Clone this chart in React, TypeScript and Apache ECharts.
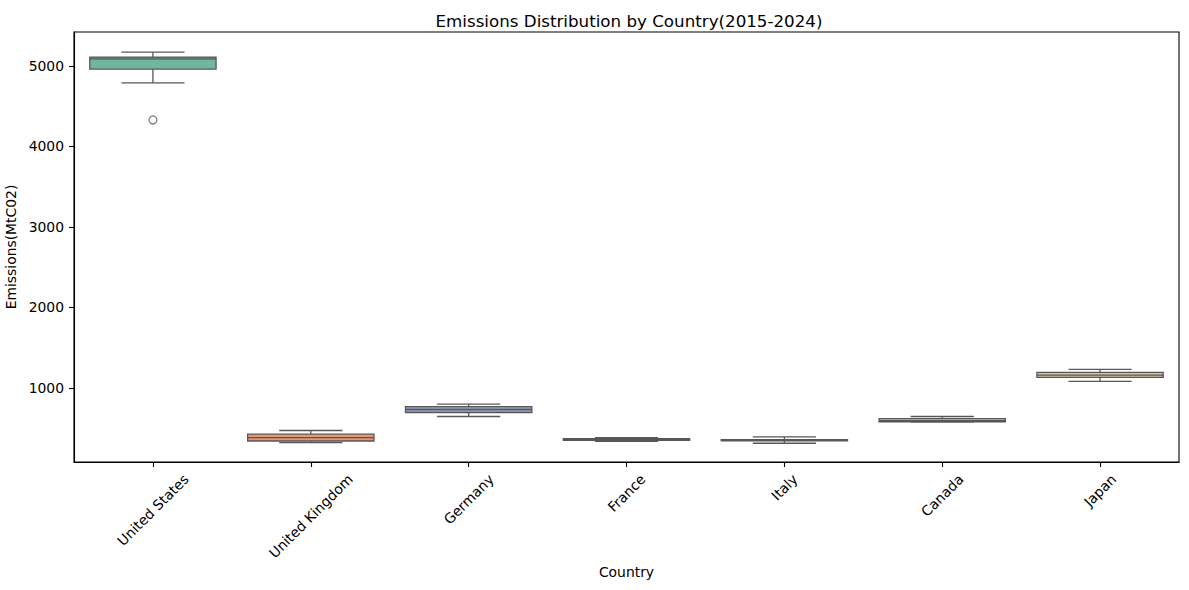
import React, { useEffect, useRef } from "react";
import * as echarts from "echarts";

const countries = ["United States", "United Kingdom", "Germany", "France", "Italy", "Canada", "Japan"];
const lowWhisker = [4788, 320, 644, 337, 312, 577, 1080];
const q1 = [4959, 340, 694, 349, 343, 579, 1129];
const median = [5087, 383, 731, 358, 349, 594, 1158];
const q3 = [5108, 424, 768, 368, 356, 619, 1192];
const highWhisker = [5170, 470, 797, 380, 390, 644, 1229];
const outliers: [number, number][] = [[0, 4328]];
const boxColors = ["#71b6a1", "#e99675", "#95a3c3", "#db96c0", "#a2c764", "#e5c849", "#dbc29e"];
const yTicks = [1000, 2000, 3000, 4000, 5000];
const yMin = 79;
const yMax = 5420;

const FONT = "DejaVu Sans";
const LABEL_SIZE = 13.9;
const LINE_COLOR = "#575757";

let measureCtx: CanvasRenderingContext2D | null = null;
function measure(text: string): number {
  if (!measureCtx) {
    const c = document.createElement("canvas");
    measureCtx = c.getContext("2d");
  }
  if (!measureCtx) return text.length * 8;
  measureCtx.font = `${LABEL_SIZE}px "${FONT}"`;
  return measureCtx.measureText(text).width;
}

export default function App() {
  const ref = useRef<HTMLDivElement>(null);

  useEffect(() => {
    document.body.style.margin = "0";
    if (!ref.current) return;
    const chart = echarts.init(ref.current, undefined, { renderer: "svg" });

    const boxData = countries.map((_, i) => [i, lowWhisker[i], q1[i], median[i], q3[i], highWhisker[i]]);

    const option: any = {
      animation: false,
      backgroundColor: "#ffffff",
      textStyle: { fontFamily: FONT },
      title: {
        text: "Emissions Distribution by Country(2015-2024)",
        left: 624,
        textAlign: "center",
        top: 7,
        textStyle: { fontFamily: FONT, fontSize: 16.7, fontWeight: "normal", color: "#000" },
      },
      grid: {
        left: 74,
        right: 10,
        top: 32,
        bottom: 128,
        containLabel: false,
        outerBoundsMode: "none",
        show: true,
        borderColor: "#000",
        borderWidth: 1.1,
        backgroundColor: "transparent",
      },
      xAxis: {
        type: "category",
        data: countries,
        boundaryGap: true,
        name: "Country",
        nameLocation: "middle",
        nameGap: 103,
        nameTextStyle: { fontFamily: FONT, fontSize: LABEL_SIZE, color: "#000" },
        axisLine: { show: true, lineStyle: { color: "#000", width: 1.1 } },
        axisTick: { show: true, alignWithLabel: true, length: 5, lineStyle: { color: "#000", width: 1.1 } },
        axisLabel: { show: false },
        splitLine: { show: false },
      },
      yAxis: {
        type: "value",
        min: yMin,
        max: yMax,
        name: "Emissions(MtC02)",
        nameLocation: "middle",
        nameGap: 46,
        nameTextStyle: { fontFamily: FONT, fontSize: LABEL_SIZE, color: "#000" },
        axisLine: { show: true, lineStyle: { color: "#000", width: 1.1 } },
        axisTick: { show: true, length: 5, lineStyle: { color: "#000", width: 1.1 }, customValues: yTicks },
        axisLabel: {
          show: true,
          margin: 10,
          fontFamily: FONT,
          fontSize: LABEL_SIZE,
          color: "#000",
          customValues: yTicks,
          formatter: (v: number) => String(Math.round(v)),
        },
        splitLine: { show: false },
      },
      series: [
        {
          type: "custom",
          clip: false,
          encode: { x: 0, y: [1, 2, 3, 4, 5] },
          data: boxData,
          renderItem: (params: any, api: any) => {
            const i = api.value(0);
            const lo = api.coord([i, api.value(1)]);
            const b1 = api.coord([i, api.value(2)]);
            const md = api.coord([i, api.value(3)]);
            const b3 = api.coord([i, api.value(4)]);
            const hi = api.coord([i, api.value(5)]);
            const band = api.size([1, 0])[0];
            const bw = band * 0.8;
            const cw = band * 0.4;
            const x = lo[0];
            const cs = params.coordSys;
            const axisY = cs.y + cs.height;
            const name = countries[i];
            const w = measure(name);
            const h = 13.8;
            const ly = axisY + 9.8 + (w + h) / (2 * Math.SQRT2);
            const stroke = { stroke: LINE_COLOR, lineWidth: 1.3, fill: null };
            return {
              type: "group",
              children: [
                { type: "line", shape: { x1: x, y1: hi[1], x2: x, y2: b3[1] }, style: stroke },
                { type: "line", shape: { x1: x, y1: b1[1], x2: x, y2: lo[1] }, style: stroke },
                { type: "line", shape: { x1: x - cw / 2, y1: hi[1], x2: x + cw / 2, y2: hi[1] }, style: stroke },
                { type: "line", shape: { x1: x - cw / 2, y1: lo[1], x2: x + cw / 2, y2: lo[1] }, style: stroke },
                {
                  type: "rect",
                  shape: { x: x - bw / 2, y: b3[1], width: bw, height: b1[1] - b3[1] },
                  style: { fill: boxColors[i], stroke: LINE_COLOR, lineWidth: 1.3 },
                },
                { type: "line", shape: { x1: x - bw / 2, y1: md[1], x2: x + bw / 2, y2: md[1] }, style: stroke },
                {
                  type: "text",
                  x: x,
                  y: ly,
                  rotation: Math.PI / 4,
                  style: {
                    text: name,
                    fill: "#000",
                    fontSize: LABEL_SIZE,
                    fontFamily: FONT,
                    align: "center",
                    verticalAlign: "middle",
                  },
                },
              ],
            };
          },
        },
        {
          type: "scatter",
          data: outliers,
          symbol: "circle",
          symbolSize: 8,
          itemStyle: { color: "#ffffff", borderColor: LINE_COLOR, borderWidth: 1.2 },
        },
      ],
    };

    chart.setOption(option);
    return () => {
      chart.dispose();
    };
  }, []);

  return <div ref={ref} style={{ width: 1189, height: 590, position: "absolute", left: 0, top: 0 }} />;
}
